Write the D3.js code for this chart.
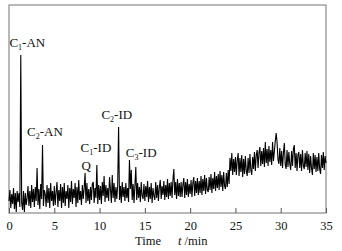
<!DOCTYPE html>
<html lang="en">
    <head>
        <meta charset="utf-8">
        <title>Chromatogram</title>
        <script type="text/javascript" src="https://d3js.org/d3.v7.min.js"></script>
        <style type="text/css">
          body { margin: 0; background: #fff; }
          text { font-family: "Liberation Serif", "Times New Roman", serif; fill: #111; }
          .frame { fill: none; stroke: #8a8a8a; stroke-width: 1.2px; }
          .trace { fill: none; stroke: #000; stroke-width: 1.1px; }
        </style>
    </head>
    <body>
        <svg width="342" height="251"></svg>
        <script type="text/javascript">
            const step = 0.1;
            const signal = [
              12, 23, 5, 19, 9, 25, 4, 20, 1, 22,
              11, 20, 6, 158, 10, 3, 22, 1, 20, 8,
              15, 27, 7, 22, 5, 28, 11, 24, 6, 26,
              12, 45, 8, 24, 4, 29, 14, 68, 7, 23,
              19, 6, 28, 10, 25, 5, 30, 12, 22, 7,
              27, 8, 21, 31, 6, 23, 12, 29, 5, 26,
              10, 30, 7, 22, 14, 28, 5, 25, 11, 32,
              9, 24, 15, 30, 6, 26, 10, 33, 13, 22,
              8, 28, 14, 25, 40, 10, 30, 12, 24, 9,
              26, 13, 29, 31, 10, 25, 15, 48, 9, 28,
              13, 27, 9, 31, 17, 37, 11, 28, 15, 25,
              12, 36, 24, 10, 38, 15, 30, 11, 26, 14,
              28, 86, 13, 27, 10, 31, 16, 26, 12, 30,
              15, 25, 11, 53, 24, 43, 13, 29, 10, 27,
              46, 13, 30, 15, 26, 11, 31, 17, 14, 29,
              12, 27, 16, 32, 11, 26, 14, 30, 10, 25,
              17, 13, 31, 15, 28, 12, 26, 33, 14, 27,
              18, 32, 13, 28, 16, 34, 14, 30, 17, 31,
              15, 33, 44, 18, 31, 14, 34, 17, 30, 16,
              31, 16, 28, 35, 15, 31, 18, 34, 16, 29,
              19, 33, 16, 30, 36, 17, 32, 20, 35, 18,
              32, 20, 37, 18, 34, 22, 38, 19, 35, 23,
              21, 36, 23, 39, 20, 35, 24, 41, 22, 37,
              25, 39, 23, 42, 26, 38, 22, 41, 27, 24,
              40, 26, 43, 29, 55, 42, 60, 38, 54, 41,
              56, 38, 53, 60, 37, 55, 41, 58, 36, 54,
              39, 57, 42, 37, 55, 40, 59, 43, 38, 56,
              44, 61, 42, 58, 63, 45, 60, 66, 47, 62,
              49, 65, 46, 71, 50, 64, 47, 67, 51, 63,
              48, 71, 52, 62, 72, 80, 70, 53, 49, 65,
              47, 62, 45, 60, 70, 48, 44, 63, 46, 61,
              49, 43, 62, 47, 64, 68, 45, 60, 42, 58,
              61, 45, 59, 42, 63, 47, 44, 60, 46, 62,
              43, 59, 40, 57, 45, 38, 60, 44, 58, 41,
              56, 42, 60, 44, 39, 58, 45, 61, 43, 57,
              50
            ];

            // peak labels: name, subscript, tail, time and signal at label baseline
            const peakNames = ["C", "C", "Q", "C", "C", "C"];
            const peakSubs = ["1", "2", "", "1", "2", "3"];
            const peakTails = ["-AN", "-AN", "", "-ID", "-ID", "-ID"];
            const peakLabelX = [0.05, 2.0, 8.0, 7.9, 10.2, 12.9];
            const peakLabelY = [166, 77, 43, 61, 94, 56];

            const xTicks = [0, 5, 10, 15, 20, 25, 30, 35];

            const svg = d3.select("svg");
            const mLeft = 9, mRight = 326, mTop = 5, mBottom = 213;

            const x = d3.scaleLinear().domain([0, 35]).range([mLeft, mRight]);
            const y = d3.scaleLinear().domain([0, 208]).range([mBottom, mTop]);

            //frame
            svg.append("rect")
               .attr("class", "frame")
               .attr("x", mLeft)
               .attr("y", mTop)
               .attr("width", mRight - mLeft)
               .attr("height", mBottom - mTop);

            //bottom axis, ticks pointing in
            const xAxis = svg.append("g")
               .attr("transform", `translate(0, ${mBottom})`)
               .call(d3.axisBottom(x).tickValues(xTicks).tickSizeInner(-5).tickSizeOuter(0).tickPadding(8));
            xAxis.select(".domain").remove();
            xAxis.selectAll("line").attr("stroke", "#555");
            xAxis.selectAll("text")
                 .style("font-family", "'Liberation Serif', serif")
                 .style("font-size", "12.5px")
                 .attr("fill", "#111");

            //the trace
            const line = d3.line()
                           .x((d, i) => x(i * step))
                           .y(d => y(d));
            svg.append("path")
               .datum(signal)
               .attr("class", "trace")
               .attr("d", line);

            //peak labels
            peakNames.forEach((n, i) => {
                const t = svg.append("text")
                             .attr("x", x(peakLabelX[i]))
                             .attr("y", y(peakLabelY[i]))
                             .style("font-size", "13px");
                t.append("tspan").text(n);
                if (peakSubs[i]) {
                    t.append("tspan").text(peakSubs[i]).attr("dy", 3).style("font-size", "8px");
                    t.append("tspan").text(peakTails[i]).attr("dy", -3);
                }
            });

            //axis title
            const title = svg.append("text")
                             .attr("x", 135)
                             .attr("y", 245)
                             .style("font-size", "12.5px");
            title.append("tspan").text("Time");
            title.append("tspan").text("t").attr("x", 178).style("font-style", "italic");
            title.append("tspan").text(" /min");
        </script>
    </body>
</html>
